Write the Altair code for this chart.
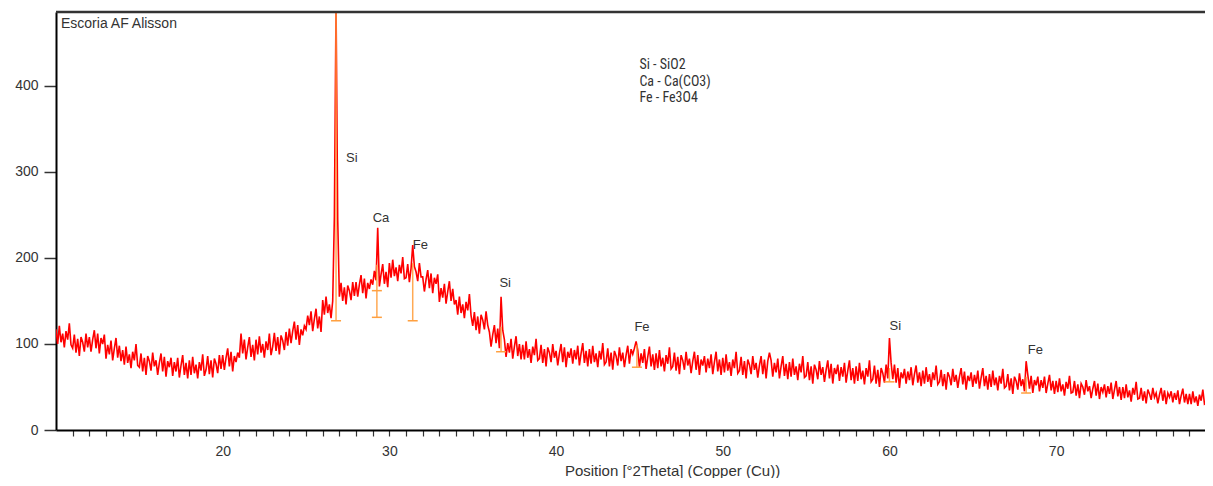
import altair as alt
import pandas as pd

counts = [
    117, 100, 121, 102, 112, 96, 115, 105, 124, 99,      # 10
    95, 111, 90, 106, 86, 108, 102, 91, 112, 96,         # 11
    108, 91, 105, 116, 95, 112, 89, 107, 100, 111,       # 12
    83, 99, 88, 104, 81, 95, 107, 84, 98, 80,            # 13
    93, 76, 97, 78, 88, 72, 91, 81, 100, 75,             # 14
    73, 89, 68, 84, 64, 86, 80, 69, 90, 74,              # 15
    81, 64, 78, 89, 68, 85, 62, 80, 73, 84,              # 16
    63, 79, 68, 84, 61, 75, 87, 64, 78, 60,              # 17
    81, 64, 85, 66, 76, 60, 79, 69, 88, 63,              # 18
    70, 86, 65, 81, 61, 83, 77, 66, 87, 71,              # 19
    87, 70, 84, 95, 74, 91, 68, 86, 79, 90,              # 20
    84, 112, 89, 105, 82, 96, 108, 85, 99, 81,           # 21
    105, 88, 109, 90, 100, 84, 103, 93, 112, 87,         # 22
    97, 113, 92, 108, 88, 110, 104, 93, 114, 98,         # 23
    118, 101, 115, 126, 105, 122, 99, 117, 110, 121,     # 24
    117, 133, 122, 138, 115, 129, 141, 118, 132, 114,    # 25
    151, 134, 155, 136, 146, 130, 150, 248, 495, 245,    # 26
    155, 171, 150, 166, 146, 168, 162, 151, 172, 156,    # 27
    172, 155, 169, 180, 159, 176, 153, 171, 164, 175,    # 28
    169, 185, 174, 235, 167, 181, 193, 170, 184, 166,    # 29
    194, 177, 198, 179, 189, 173, 192, 182, 201, 176,    # 30
    177, 193, 172, 188, 215, 190, 184, 173, 194, 178,    # 31
    178, 161, 175, 186, 165, 182, 159, 177, 170, 181,    # 32
    149, 165, 154, 170, 147, 161, 173, 150, 164, 146,    # 33
    151, 134, 155, 136, 146, 130, 149, 139, 158, 133,    # 34
    121, 137, 116, 132, 112, 134, 128, 117, 138, 122,    # 35
    114, 97, 111, 122, 101, 118, 95, 155, 116, 105,      # 36
    85, 101, 90, 106, 83, 97, 109, 86, 100, 82,          # 37
    99, 82, 103, 84, 94, 78, 97, 87, 106, 81,            # 38
    83, 99, 78, 94, 74, 96, 90, 79, 100, 84,             # 39
    92, 75, 89, 100, 79, 96, 73, 91, 84, 95,             # 40
    77, 93, 82, 98, 75, 89, 101, 78, 92, 74,             # 41
    94, 77, 98, 79, 89, 73, 92, 82, 101, 76,             # 42
    79, 95, 74, 90, 70, 92, 86, 75, 96, 80,              # 43
    90, 73, 87, 98, 77, 94, 88, 95, 103, 93,             # 44
    73, 89, 78, 94, 71, 85, 97, 74, 88, 70,              # 45
    89, 72, 93, 74, 84, 68, 87, 77, 96, 71,              # 46
    74, 90, 69, 85, 65, 87, 81, 70, 91, 75,              # 47
    83, 66, 80, 91, 70, 87, 64, 82, 75, 86,              # 48
    67, 83, 72, 88, 65, 79, 91, 68, 82, 64,              # 49
    84, 67, 88, 69, 79, 63, 82, 72, 91, 66,              # 50
    69, 85, 64, 80, 60, 82, 76, 65, 86, 70,              # 51
    78, 61, 75, 86, 65, 82, 60, 80, 90, 81,              # 52
    62, 78, 67, 83, 60, 74, 86, 63, 77, 59,              # 53
    79, 62, 83, 64, 74, 58, 77, 67, 86, 61,              # 54
    63, 79, 58, 74, 54, 76, 70, 59, 80, 64,              # 55
    73, 56, 70, 81, 60, 77, 54, 72, 65, 76,              # 56
    57, 73, 62, 78, 55, 69, 81, 58, 72, 54,              # 57
    74, 57, 78, 59, 69, 53, 72, 62, 81, 56,              # 58
    59, 75, 54, 70, 50, 72, 66, 55, 76, 60,              # 59
    107, 78, 59, 76, 55, 72, 49, 67, 60, 71,             # 60
    54, 68, 58, 73, 52, 65, 75, 55, 67, 51,              # 61
    69, 54, 73, 56, 65, 50, 67, 58, 75, 53,              # 62
    56, 70, 51, 65, 47, 67, 62, 52, 71, 56,              # 63
    64, 49, 62, 72, 53, 68, 47, 63, 57, 67,              # 64
    50, 64, 54, 69, 48, 61, 72, 51, 63, 47,              # 65
    65, 50, 69, 52, 61, 46, 63, 54, 71, 49,              # 66
    51, 65, 46, 60, 42, 62, 57, 47, 66, 51,              # 67
    59, 45, 80, 64, 48, 63, 43, 58, 52, 62,              # 68
    45, 58, 49, 62, 43, 54, 64, 46, 57, 42,              # 69
    57, 44, 60, 45, 53, 40, 56, 48, 63, 43,              # 70
    44, 57, 40, 53, 37, 54, 50, 41, 58, 45,              # 71
    51, 37, 48, 57, 40, 54, 36, 50, 44, 53,              # 72
    38, 51, 42, 55, 36, 47, 57, 39, 50, 35,              # 73
    50, 37, 53, 38, 46, 33, 49, 41, 56, 36,              # 74
    37, 49, 34, 45, 31, 47, 42, 35, 49, 38,              # 75
    43, 31, 41, 49, 34, 46, 30, 43, 38, 45,              # 76
    32, 43, 35, 46, 30, 40, 48, 32, 42, 30,              # 77
    42, 30, 45, 32, 39, 28, 41, 34, 47, 30,              # 78
    31, 42, 28, 39, 33,                                  # 79
]
two_theta = [round(10.0 + 0.1 * i, 1) for i in range(len(counts))]

# Reference sticks (orange)
ref_pos = [26.8, 29.25, 31.4, 36.7, 44.85, 60.0, 68.2]
ref_base = [127, 131, 127, 91, 73, 56, 43]
ref_top = [486, 192, 194, 120, 99, 72, 62]
cap_pos = ref_pos + [29.25]
cap_val = ref_base + [162]

# Peak labels
peak_label = ["Si", "Ca", "Fe", "Si", "Fe", "Si", "Fe"]
label_x = [27.4, 29.0, 31.4, 36.6, 44.7, 60.0, 68.3]
label_y = [316, 246, 215, 171, 120, 121, 93]

# Phase legend
legend_lines = ["Si -  SiO2", "Ca - Ca(CO3)", "Fe - Fe3O4"]
legend_y = [424, 405, 386]
legend_x = [45.0, 45.0, 45.0]

title_text = ["Escoria AF Alisson"]
title_x = [10.3]
title_y = [472]

W, H = 1149, 418
FONT = "Liberation Sans"
LEGFONT = "Liberation Sans Narrow, Roboto Condensed, Liberation Sans"
TXT = "#333333"

xs = alt.Scale(domain=[10, 78.93], nice=False, zero=False)
ys = alt.Scale(domain=[0, 486], nice=False, zero=True)

line_df = pd.DataFrame({"x": two_theta, "y": counts})
ref_df = pd.DataFrame({"x": ref_pos, "y": ref_base, "y2": ref_top})
cap_df = pd.DataFrame({"x": cap_pos, "y": cap_val})
lab_df = pd.DataFrame({"x": label_x, "y": label_y, "t": peak_label})
leg_df = pd.DataFrame({"x": legend_x, "y": legend_y, "t": legend_lines})
tit_df = pd.DataFrame({"x": title_x, "y": title_y, "t": title_text})

x_axis = alt.Axis(
    orient="bottom",
    values=list(range(11, 79)),
    labelExpr="datum.value % 10 === 0 ? datum.label : ''",
    tickSize=6, tickColor=TXT, tickWidth=1.2,
    domainColor="#000000", domainWidth=2,
    labelFontSize=14, labelColor=TXT, labelPadding=8, labelFont=FONT,
    title="Position [°2Theta] (Copper (Cu))",
    titleFontSize=15, titleFontWeight="normal", titleColor=TXT, titleFont=FONT,
    titleX=616, titleY=48, titleAlign="center", titleBaseline="bottom",
    grid=False, labelFlush=False,
)
y_axis = alt.Axis(
    orient="left",
    values=[0, 100, 200, 300, 400],
    tickSize=12, tickColor=TXT, tickWidth=1.5,
    domainColor="#000000", domainWidth=2,
    labelFontSize=14, labelColor=TXT, labelPadding=6, labelFont=FONT,
    title=None, grid=False,
)

X = lambda f: alt.X(f, scale=xs, axis=x_axis)
Y = lambda f: alt.Y(f, scale=ys, axis=y_axis)

line = alt.Chart(line_df).mark_line(color="#ff0000", strokeWidth=1.6, clip=True).encode(
    x=X("x:Q"), y=Y("y:Q"),
)

sticks = alt.Chart(ref_df).mark_rule(color="#ffa040", strokeWidth=1.5, opacity=0.9, clip=True).encode(
    x=X("x:Q"), y=Y("y:Q"), y2="y2:Q",
)

caps = alt.Chart(cap_df).transform_calculate(
    xa="datum.x - 0.3", xb="datum.x + 0.3"
).mark_rule(color="#ffa040", strokeWidth=1.5).encode(
    x=X("xa:Q"), x2="xb:Q", y=Y("y:Q"),
)

labels = alt.Chart(lab_df).mark_text(
    align="left", baseline="middle", fontSize=13, font=FONT, color=TXT
).encode(x=X("x:Q"), y=Y("y:Q"), text="t:N")

legend = alt.Chart(leg_df).mark_text(
    align="left", baseline="middle", fontSize=14, font=LEGFONT, color=TXT
).encode(x=X("x:Q"), y=Y("y:Q"), text="t:N")

title = alt.Chart(tit_df).mark_text(
    align="left", baseline="middle", fontSize=14, font=FONT, color=TXT
).encode(x=X("x:Q"), y=Y("y:Q"), text="t:N")

top_border = alt.Chart(tit_df).mark_rule(color="#333333", strokeWidth=2.5).encode(
    x=alt.value(0), x2=alt.value(W), y=alt.value(0)
)

chart = alt.layer(line, sticks, caps, labels, legend, title, top_border).resolve_scale(
    x="shared", y="shared"
).properties(
    width=W, height=H,
    autosize=alt.AutoSizeParams(type="none"),
    padding={"left": 48, "top": 4, "right": 0, "bottom": 48},
    background="white",
).configure_view(strokeWidth=0, stroke="transparent")

chart.save("out.html", embed_options={"renderer": "svg", "actions": False})
